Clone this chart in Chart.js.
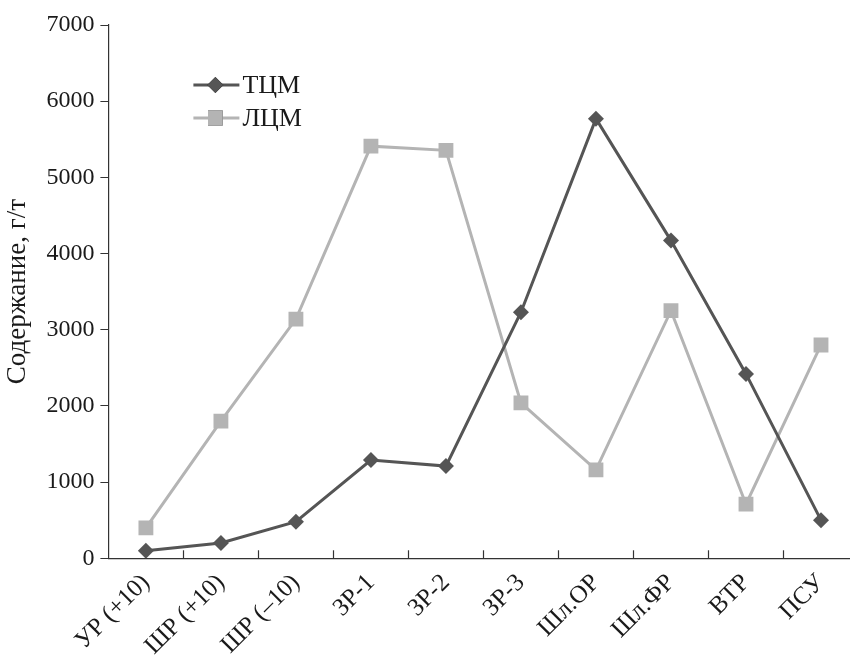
<!DOCTYPE html>
<html>
<head>
<meta charset="utf-8">
<script src="https://cdn.jsdelivr.net/npm/chart.js@4.4.1/dist/chart.umd.min.js"></script>
<style>
  html, body { margin: 0; padding: 0; background: #fff; overflow: hidden; }
  #wrap { width: 869px; height: 663px; }
</style>
</head>
<body>
<div id="wrap"><canvas id="chart"></canvas></div>
<script>
const categories = ['УР (+10)', 'ШР (+10)', 'ШР (–10)', 'ЗР-1', 'ЗР-2', 'ЗР-3', 'Шл.ОР', 'Шл.ФР', 'ВТР', 'ПСУ'];
const tcmValues = [100, 200, 480, 1290, 1210, 3230, 5770, 4170, 2420, 500];
const lcmValues = [400, 1800, 3140, 5410, 5355, 2040, 1160, 3250, 710, 2800];
const yTicks = [0, 1000, 2000, 3000, 4000, 5000, 6000, 7000];

const darkGrey = '#555555';
const lightGrey = '#b4b4b4';
const serif = '"Liberation Serif", "Times New Roman", serif';

// legend drawn inside the plot area, top left
const innerLegend = {
  id: 'innerLegend',
  afterDraw(chart) {
    const ctx = chart.ctx;
    const area = chart.chartArea;
    const x0 = area.left + 85;
    let y = area.top + 60;
    chart.data.datasets.forEach(ds => {
      ctx.save();
      ctx.strokeStyle = ds.borderColor;
      ctx.lineWidth = 3;
      ctx.beginPath();
      ctx.moveTo(x0, y);
      ctx.lineTo(x0 + 46, y);
      ctx.stroke();
      Chart.helpers.drawPoint(ctx, {
        pointStyle: ds.pointStyle,
        radius: ds.pointRadius,
        borderWidth: 0
      }, x0 + 22, y);
      ctx.fillStyle = ds.pointBackgroundColor;
      ctx.fill();
      ctx.fillStyle = '#1a1a1a';
      ctx.font = '26px ' + serif;
      ctx.textBaseline = 'middle';
      ctx.fillText(ds.label, x0 + 49, y + 1);
      ctx.restore();
      y += 33;
    });
  }
};

// x axis tick marks pointing up, at category borders
const xTickMarks = {
  id: 'xTickMarks',
  afterDraw(chart) {
    const ctx = chart.ctx;
    const xs = chart.scales.x;
    const bottom = chart.chartArea.bottom;
    const step = xs.getPixelForValue(1) - xs.getPixelForValue(0);
    ctx.save();
    ctx.strokeStyle = '#333';
    ctx.lineWidth = 1.2;
    for (let i = 1; i <= categories.length; i++) {
      const x = Math.round(xs.getPixelForValue(i) - step / 2) + 0.5;
      ctx.beginPath();
      ctx.moveTo(x, bottom);
      ctx.lineTo(x, bottom - 8);
      ctx.stroke();
    }
    ctx.restore();
  }
};

new Chart(document.getElementById('chart'), {
  type: 'line',
  data: {
    labels: categories,
    datasets: [
      {
        label: 'ТЦМ',
        data: tcmValues,
        borderColor: darkGrey,
        backgroundColor: darkGrey,
        pointBackgroundColor: darkGrey,
        pointBorderWidth: 0,
        borderWidth: 3,
        pointStyle: 'rectRot',
        pointRadius: 8,
        tension: 0
      },
      {
        label: 'ЛЦМ',
        data: lcmValues,
        borderColor: lightGrey,
        backgroundColor: lightGrey,
        pointBackgroundColor: lightGrey,
        pointBorderWidth: 0,
        borderWidth: 3,
        pointStyle: 'rect',
        pointRadius: 10.5,
        tension: 0
      }
    ]
  },
  options: {
    responsive: true,
    maintainAspectRatio: false,
    animation: false,
    layout: { padding: { top: 25, left: 2, right: 0, bottom: 0 } },
    plugins: {
      legend: { display: false },
      tooltip: { enabled: false }
    },
    scales: {
      x: {
        offset: true,
        grid: { display: false },
        border: { color: '#333', width: 1.2 },
        ticks: {
          color: '#1a1a1a',
          font: { family: serif, size: 25 },
          maxRotation: 45,
          minRotation: 45,
          padding: 2,
          autoSkip: false
        }
      },
      y: {
        min: 0,
        max: 7000,
        afterBuildTicks: axis => { axis.ticks = yTicks.map(v => ({ value: v })); },
        grid: { drawOnChartArea: false, drawTicks: true, tickLength: 8, color: '#333' },
        border: { color: '#333', width: 1.2 },
        ticks: {
          color: '#1a1a1a',
          font: { family: serif, size: 24 },
          padding: 6,
          callback: v => String(v)
        },
        title: {
          display: true,
          text: 'Содержание, г/т',
          color: '#1a1a1a',
          font: { family: serif, size: 27 },
          padding: { top: 0, bottom: 6 }
        }
      }
    }
  },
  plugins: [innerLegend, xTickMarks]
});
</script>
</body>
</html>
